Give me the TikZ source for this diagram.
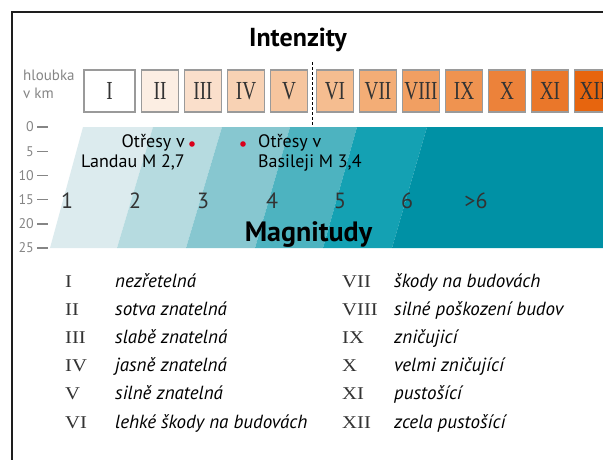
\documentclass[tikz,border=0pt]{standalone}
\usepackage{fontspec}
\setmainfont{PT Sans}
\newfontfamily\romfont[FakeStretch=0.74]{Liberation Serif}
\newfontfamily\legromfont[FakeStretch=1.15]{Liberation Serif}
\usepackage{tikz}
\usetikzlibrary{positioning}
\definecolor{framegray}{HTML}{1E1E1E}
\definecolor{boxgray}{HTML}{9A9A9A}
\definecolor{numgray}{HTML}{333333}
\definecolor{depthgray}{HTML}{858585}
\definecolor{quakered}{HTML}{D9001B}
% intensity scale
\definecolor{int1}{HTML}{FFFFFF}
\definecolor{int2}{HTML}{FCEEE3}
\definecolor{int3}{HTML}{FADFCB}
\definecolor{int4}{HTML}{F8D2B4}
\definecolor{int5}{HTML}{F6C59E}
\definecolor{int6}{HTML}{F5BD90}
\definecolor{int7}{HTML}{F3AD76}
\definecolor{int8}{HTML}{F19F62}
\definecolor{int9}{HTML}{EF9350}
\definecolor{int10}{HTML}{EC823A}
\definecolor{int11}{HTML}{EA772A}
\definecolor{int12}{HTML}{E7650E}
% magnitude bands
\definecolor{mag1}{HTML}{DCEBEE}
\definecolor{mag2}{HTML}{B6DBE0}
\definecolor{mag3}{HTML}{87C7D0}
\definecolor{mag4}{HTML}{4DB3C0}
\definecolor{mag5}{HTML}{14A1B3}
\definecolor{mag6}{HTML}{0091A5}

\begin{document}
\begin{tikzpicture}[
    x=1pt, y=-1pt,
    intbox/.style   = {draw=boxgray, line width=1.3pt, minimum width=37pt, minimum height=42pt,
                       inner sep=0pt, font=\romfont\fontsize{26}{26}\selectfont, text=numgray},
    depth/.style    = {font=\fontsize{14}{14}\selectfont, text=depthgray, anchor=east, inner sep=0pt},
    tick/.style     = {draw=depthgray, line width=1.4pt},
    magnum/.style   = {font=\fontsize{22}{22}\selectfont, text=numgray},
    quake/.style    = {font=\fontsize{18}{20.5}\selectfont, inner sep=0pt},
    headline/.style = {font=\bfseries\fontsize{26}{26}\selectfont, anchor=base},
    legnum/.style   = {font=\legromfont\fontsize{18}{18}\selectfont, text=numgray, anchor=base west, inner sep=0pt},
    legtext/.style  = {font=\itshape\fontsize{19}{19}\selectfont, anchor=base west, inner sep=0pt}
  ]
  \useasboundingbox (0,0) rectangle (603,459);
  \clip (0,0) rectangle (603,459);

  % ── Frame ─────────────────────────────────────────────────────────────────
  \draw[framegray, line width=1.4pt] (12,470) -- (12,12) -- (620,12);

  % ── Intensity scale ───────────────────────────────────────────────────────
  \node[headline] (intenzity) at (298,46) {Intenzity};
  \node[intbox, fill=int1, minimum width=51pt] (int1) at (109.5,91) {I};
  \foreach \num/\x/\c in {II/160/2, III/203/3, IV/246/4, V/289/5,
                          VI/335/6, VII/378/7, VIII/421/8, IX/464/9,
                          X/507/10, XI/550/11, XII/593/12}
    \node[intbox, fill=int\c] (int\c) at (\x,91) {\num};
  \coordinate (splittop) at (312.5,62);
  \coordinate (splitbot) at (312.5,127);
  \draw[black, line width=1.2pt, dash pattern=on 3pt off 2pt] (splittop) -- (splitbot);

  % ── Depth axis ────────────────────────────────────────────────────────────
  \node[font=\fontsize{15}{18}\selectfont, text=depthgray, align=left, anchor=north west, inner sep=0pt]
    (hloubka) at (23,70) {hloubka\\v km};
  \foreach \d in {0,5,...,25} {
    \node[depth] (dep\d) at ({34},{127+\d*4.84}) {\d};
    \draw[tick] ({37},{127+\d*4.84}) -- ({48},{127+\d*4.84});
  }

  % ── Magnitude bands ───────────────────────────────────────────────────────
  \foreach \bl/\tl/\br/\tr/\c in {50/83/117/153/mag1, 117/153/186/222/mag2,
                                  186/222/255/290/mag3, 255/290/323/357/mag4,
                                  323/357/392/427/mag5, 392/427/620/620/mag6}
    \fill[\c] (\bl,248) -- (\tl,127) -- (\tr,127) -- (\br,248) -- cycle;
  \foreach \lbl/\x [count=\i] in {1/67, 2/135, 3/203, 4/272, 5/340, 6/407, >6/476}
    \node[magnum] (magval\i) at (\x,201) {\lbl};
  \node[headline, font=\bfseries\fontsize{28}{28}\selectfont] (magnitudy) at (308.5,241) {Magnitudy};

  % ── Quakes ────────────────────────────────────────────────────────────────
  \node[quake, align=right, anchor=north east] (landau) at (185,134) {Otřesy v\\Landau M 2,7};
  \node[quake, align=left, anchor=north west] (basel) at (258,134) {Otřesy v\\Basileji M 3,4};
  \fill[quakered] (192,144) circle (2.8);
  \fill[quakered] (243,144) circle (2.8);

  % ── Legend ────────────────────────────────────────────────────────────────
  \foreach \r/\txt [count=\i] in {I/nezřetelná, II/sotva znatelná, III/slabě znatelná,
                                  IV/jasně znatelná, V/silně znatelná, VI/lehké škody na budovách} {
    \node[legnum] (lnum\i) at ({65},{287+(\i-1)*28.2}) {\r};
    \node[legtext] (ltxt\i) at ({115},{287+(\i-1)*28.2}) {\txt};
  }
  \foreach \r/\txt [count=\i from 7] in {VII/škody na budovách, VIII/silné poškození budov, IX/zničujicí,
                                         X/velmi zničující, XI/pustošící, XII/zcela pustošící} {
    \node[legnum] (lnum\i) at ({342},{287+(\i-7)*28.2}) {\r};
    \node[legtext] (ltxt\i) at ({394},{287+(\i-7)*28.2}) {\txt};
  }

\end{tikzpicture}
\end{document}
